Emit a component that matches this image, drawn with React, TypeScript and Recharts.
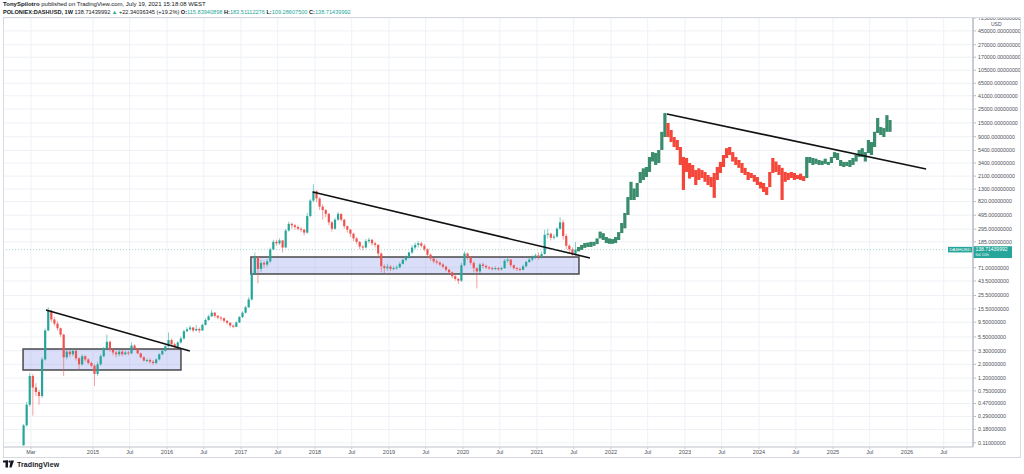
import React from "react";
import {
  ComposedChart,
  Bar,
  XAxis,
  YAxis,
  CartesianGrid,
  ReferenceLine,
  ReferenceArea,
} from "recharts";

// weekly DASH candles, resampled to half-month slots counted from 2014-01-01
const SLOT_YEAR = 2014;
const SLOTS_PER_YEAR = 24;
const FIRST_SLOT = 1;
const FIRST_OPEN = 0.1;

const closes = [
  0.21, 0.45, 1.3, 0.85, 0.72, 0.62, 2.4, 7.0, 14.5, 10.5,
  9, 7.6, 6.0, 2.6, 3.2, 2.9, 3.3, 2.5, 2.0, 2.7,
  2.4, 2.1, 1.9, 1.4, 2.0, 2.7, 3.6, 4.6, 3.4, 3.1,
  2.9, 3.2, 2.9, 3.1, 3.0, 4.0, 3.6, 3.0, 2.6, 2.3,
  2.35, 2.2, 2.1, 2.4, 2.9, 3.3, 3.9, 4.9, 4.2, 3.8,
  4.5, 5.2, 6.8, 7.3, 7.8, 7.0, 7.4, 7.0, 8.6, 10.3,
  11.8, 13.5, 12.0, 11.3, 11.0, 10.0, 9.3, 8.4, 8.0, 9.4,
  11.5, 13.5, 16.5, 22, 58, 104, 68, 85, 80, 90,
  140, 185, 175, 195, 150, 280, 360, 340, 320, 300,
  290, 260, 480, 850, 1200, 920, 680, 600, 520, 380,
  300, 420, 520, 420, 330, 290, 250, 210, 185, 155,
  150, 190, 200, 175, 165, 120, 75, 70, 74, 68,
  70, 72, 82, 95, 105, 125, 150, 165, 175, 160,
  140, 115, 100, 90, 86, 80, 74, 66, 60, 52,
  47, 44, 78, 120, 105, 85, 70, 62, 80, 76,
  72, 70, 68, 70, 67, 70, 92, 96, 78, 70,
  68, 66, 75, 88, 96, 104, 112, 105, 118, 240,
  250, 215, 225, 300, 380, 230, 160, 140, 116, 138.71439992,
];

const highs = [
  0.22, 0.5, 1.45, 1.4, 1.0, 0.78, 2.6, 7.5, 16.5, 15,
  11.5, 9.8, 7.8, 6.2, 3.5, 3.4, 3.6, 3.4, 2.6, 2.9,
  2.8, 2.5, 2.2, 2.0, 2.2, 2.9, 3.8, 6.0, 4.8, 3.6,
  3.3, 3.4, 3.4, 3.3, 3.3, 4.5, 4.2, 3.7, 3.1, 2.7,
  2.5, 2.5, 2.35, 2.5, 3.0, 3.5, 4.1, 6.5, 5.2, 4.5,
  4.7, 5.6, 7.2, 7.9, 8.4, 8.0, 8.6, 7.8, 9.0, 11.0,
  12.5, 15.0, 13.8, 12.4, 11.8, 11.2, 10.2, 9.4, 8.7, 9.8,
  12.0, 14.2, 17.5, 24, 65, 125, 108, 95, 92, 98,
  150, 200, 200, 210, 200, 300, 390, 380, 360, 340,
  320, 300, 540, 900, 1550, 1250, 960, 740, 620, 540,
  400, 450, 560, 530, 430, 340, 300, 260, 220, 190,
  165, 205, 215, 205, 185, 170, 125, 80, 82, 78,
  76, 78, 88, 100, 112, 130, 165, 180, 190, 185,
  170, 145, 120, 103, 97, 90, 84, 76, 68, 62,
  54, 49, 85, 130, 125, 108, 90, 72, 85, 86,
  80, 76, 74, 75, 73, 74, 98, 104, 98, 80,
  73, 72, 80, 92, 104, 112, 120, 125, 130, 290,
  300, 260, 245, 320, 463, 420, 250, 170, 150, 183.51112276,
];

const lows = [
  0.1, 0.2, 0.42, 0.3, 0.62, 0.45, 0.58, 2.3, 6.8, 9.5,
  8.3, 7.0, 5.5, 1.3, 2.4, 2.6, 2.7, 2.3, 1.65, 1.9,
  2.2, 2.0, 1.8, 0.9, 1.3, 1.9, 2.6, 3.5, 3.2, 2.8,
  2.6, 2.7, 2.7, 2.8, 2.8, 2.9, 3.4, 2.9, 2.5, 2.2,
  2.15, 2.05, 1.95, 2.0, 2.3, 2.8, 3.2, 3.7, 3.9, 3.5,
  3.6, 4.3, 5.0, 6.6, 6.9, 6.5, 6.8, 6.4, 6.9, 8.4,
  10.0, 11.5, 11.2, 10.6, 10.0, 9.3, 8.6, 7.8, 7.6, 7.9,
  9.2, 11.0, 13.0, 16, 21, 55, 40, 60, 70, 74,
  85, 135, 160, 165, 125, 150, 270, 300, 290, 280,
  265, 235, 250, 460, 800, 800, 600, 420, 460, 340,
  270, 290, 400, 390, 300, 260, 220, 190, 170, 140,
  135, 145, 175, 160, 150, 100, 60, 58, 64, 63,
  65, 66, 70, 80, 90, 100, 118, 140, 150, 150,
  130, 105, 92, 84, 80, 76, 70, 62, 55, 48,
  44, 39, 42, 75, 95, 78, 60, 33, 58, 70,
  68, 66, 64, 65, 63, 64, 68, 86, 72, 66,
  63, 62, 64, 72, 85, 90, 98, 96, 100, 115,
  210, 195, 200, 215, 290, 200, 140, 120, 105, 109.285075,
];

// projected bars pattern drawn by the author after the last candle
const projHigh = [
  153, 165, 177, 180, 185, 185, 210, 270, 255, 221,
  210, 205, 221, 265, 371, 537, 970, 1700, 1330, 1630,
  2450, 2800, 2940, 4260, 5100, 4930, 5510, 10800, 21600, 14950,
  11540, 8910, 7980, 6160, 4260, 4100, 3410, 3170, 2630, 2800,
  2630, 2450, 2190, 2030, 2360, 2940, 3550, 4580, 5900, 6160,
  5100, 4260, 3810, 3410, 2850, 2450, 2360, 2190, 2030, 1700,
  1630, 1400, 2450, 4100, 3600, 3170, 2850, 2450, 2360, 2450,
  2360, 2190, 2300, 2100, 4260, 4260, 4100, 4000, 3810, 3700,
  4000, 3550, 4260, 5100, 4930, 3810, 3550, 3550, 3810, 4100,
  4580, 5510, 5900, 5100, 7980, 7400, 10800, 18000, 12900, 12400,
  20000, 16700,
];

const projLow = [
  130, 137, 148, 153, 153, 160, 170, 210, 198, 177,
  172, 172, 177, 198, 256, 305, 499, 869, 869, 970,
  1630, 1820, 2030, 2450, 3600, 3170, 3410, 5510, 8910, 8910,
  7400, 6160, 5510, 3170, 1256, 2450, 1920, 2030, 1510, 1820,
  1960, 1700, 1510, 1400, 940, 1820, 2360, 2940, 4100, 4580,
  3600, 3170, 2850, 2360, 2190, 1820, 1960, 1700, 1510, 1330,
  1170, 1045, 1400, 2360, 2450, 2190, 869, 1700, 1820, 1960,
  1820, 1890, 1820, 1750, 1960, 3410, 3170, 3300, 3170, 3170,
  3300, 3170, 3410, 4100, 3810, 3050, 2940, 3050, 2940, 3170,
  3600, 4260, 4260, 3600, 4930, 4580, 6160, 10330, 9590, 8910,
  10800, 10800,
];

// index in the projection where it turns down, and where it turns up again
const projTurns = [29, 74];

const priceTicks = [
  725000, 450000, 270000, 170000, 105000, 65000, 41000, 25000, 15000, 9000,
  5400, 3400, 2100, 1300, 820, 495, 295, 185, 71, 43.5,
  25.5, 15.5, 9.5, 5.5, 3.3, 2.0, 1.2, 0.75, 0.47, 0.29, 0.18, 0.11,
];

const xTickDates = [
  "2014-03-01", "2015-01-01", "2015-07-01", "2016-01-01", "2016-07-01",
  "2017-01-01", "2017-07-01", "2018-01-01", "2018-07-01", "2019-01-01",
  "2019-07-01", "2020-01-01", "2020-07-01", "2021-01-01", "2021-07-01",
  "2022-01-01", "2022-07-01", "2023-01-01", "2023-07-01", "2024-01-01",
  "2024-07-01", "2025-01-01", "2025-07-01", "2026-01-01", "2026-07-01",
];
const xTickLabels = [
  "Mar", "2015", "Jul", "2016", "Jul", "2017", "Jul", "2018", "Jul", "2019",
  "Jul", "2020", "Jul", "2021", "Jul", "2022", "Jul", "2023", "Jul", "2024",
  "Jul", "2025", "Jul", "2026", "Jul",
];

const trendLines = [
  { from: "2014-05-14", fromPrice: 14.9, to: "2016-04-23", toPrice: 3.27 },
  { from: "2017-12-21", fromPrice: 1167, to: "2021-09-19", toPrice: 102 },
  { from: "2022-10-04", fromPrice: 20850, to: "2026-04-05", toPrice: 2730 },
];

const boxes = [
  { from: "2014-01-21", to: "2016-03-10", low: 1.62, high: 3.52 },
  { from: "2017-02-19", to: "2021-07-27", low: 56.4, high: 106 },
];

const LAST_PRICE = 138.71439992;

const UP = "#26a69a";
const DOWN = "#ef5350";
const PROJ_UP = "#3a8c6c";
const PROJ_DOWN = "#f4473a";
const GRID = "#eef1f6";
const TEXT = "#4c4f59";
const FONT = "'Liberation Sans', Arial, sans-serif";

const X_DOMAIN = [2013.7838, 2026.8919];
const Y_DOMAIN = [0.0942, 752000];

function yearFrac(iso: string) {
  const d = new Date(iso + "T00:00:00Z");
  const y = d.getUTCFullYear();
  const start = Date.UTC(y, 0, 1);
  const end = Date.UTC(y + 1, 0, 1);
  return y + (d.getTime() - start) / (end - start);
}

const slotTime = (i: number) => SLOT_YEAR + (i + 0.5) / SLOTS_PER_YEAR;

const rows: any[] = [];
closes.forEach((c, k) => {
  rows.push({
    t: slotTime(FIRST_SLOT + k),
    open: k === 0 ? FIRST_OPEN : closes[k - 1],
    close: c,
    high: highs[k],
    low: lows[k],
    proj: false,
  });
});
projHigh.forEach((h, k) => {
  rows.push({
    t: slotTime(FIRST_SLOT + closes.length + k),
    high: h,
    low: projLow[k],
    proj: true,
    rising: k < projTurns[0] || k >= projTurns[1],
  });
});

const xTicks = xTickDates.map(yearFrac);

function Candle(props: any) {
  const { x, y, width, height, payload } = props;
  if (!payload || x == null || y == null) return null;
  const top = Math.min(y, y + height);
  const bot = Math.max(y, y + height);
  const cx = x + width / 2;
  if (payload.proj) {
    return (
      <rect
        x={cx - 1.6}
        y={top}
        width={3.2}
        height={Math.max(bot - top, 1.5)}
        fill={payload.rising ? PROJ_UP : PROJ_DOWN}
      />
    );
  }
  const lh = Math.log(payload.high);
  const ll = Math.log(payload.low);
  const toY = (v: number) => (lh === ll ? top : top + ((bot - top) * (lh - Math.log(v))) / (lh - ll));
  const yo = toY(payload.open);
  const yc = toY(payload.close);
  const color = payload.close >= payload.open ? UP : DOWN;
  return (
    <g>
      <line x1={cx} x2={cx} y1={top} y2={bot} stroke={color} strokeOpacity={0.55} strokeWidth={1} />
      <rect x={cx - 1.1} y={Math.min(yo, yc)} width={2.2} height={Math.max(Math.abs(yc - yo), 1)} fill={color} />
    </g>
  );
}

function PriceTag(props: any) {
  const { viewBox } = props;
  if (!viewBox) return null;
  const right = viewBox.x + viewBox.width;
  const y = viewBox.y;
  return (
    <g fontFamily={FONT}>
      <rect x={right - 25} y={y - 2.8} width={24} height={5.6} fill={UP} />
      <text x={right - 13} y={y + 1.5} fontSize={4.3} fill="#fff" textAnchor="middle">
        DASHUSD
      </text>
      <rect x={right} y={y - 3.4} width={39} height={11.8} fill={UP} />
      <text x={right + 2.5} y={y + 1.6} fontSize={5} fill="#fff">
        138.71439992
      </text>
      <text x={right + 2.5} y={y + 6.4} fontSize={4.4} fill="#e6f7f5">
        6d 10h
      </text>
    </g>
  );
}

export default function App() {
  return (
    <div
      style={{
        position: "relative",
        width: 1024,
        height: 474,
        background: "#fff",
        overflow: "hidden",
        fontFamily: FONT,
        color: "#131722",
      }}
    >
      <style>{"body{margin:0}"}</style>
      <div style={{ position: "absolute", left: 3, top: 1, fontSize: 6, lineHeight: "7.6px", whiteSpace: "nowrap" }}>
        <div>
          <b>TonySpilotro</b> published on TradingView.com, July 19, 2021 15:18:08 WEST
        </div>
        <div style={{ fontSize: 5.6 }}>
          <b>POLONIEX:DASHUSD, 1W</b> 138.71439992 <span style={{ color: UP }}>▲</span> +22.34036345 (+19.2%){" "}
          <b>O:</b>
          <span style={{ color: UP }}>115.83940898</span> <b>H:</b>
          <span style={{ color: UP }}>183.51112276</span> <b>L:</b>
          <span style={{ color: UP }}>109.28607500</span> <b>C:</b>
          <span style={{ color: UP }}>138.71439992</span>
        </div>
      </div>

      <div style={{ position: "absolute", left: 3, top: 17 }}>
        <ComposedChart width={1018} height={441} data={rows} margin={{ top: 0, right: 0, bottom: 0, left: 0 }}>
          <CartesianGrid stroke={GRID} />
          <XAxis
            type="number"
            dataKey="t"
            domain={X_DOMAIN}
            allowDataOverflow
            ticks={xTicks}
            interval={0}
            height={11}
            tickSize={2}
            tickMargin={1}
            tick={{ fontSize: 5.5, fill: TEXT, fontFamily: FONT }}
            tickFormatter={(v: number) => xTickLabels[xTicks.indexOf(v)] ?? ""}
            axisLine={{ stroke: "#c5c8cf" }}
            tickLine={{ stroke: "#c5c8cf" }}
          />
          <YAxis
            orientation="right"
            scale="log"
            domain={Y_DOMAIN}
            allowDataOverflow
            ticks={priceTicks}
            interval={0}
            width={48}
            tickSize={3}
            tickMargin={2}
            tick={{ fontSize: 5.3, fill: TEXT, fontFamily: FONT }}
            tickFormatter={(v: number) => v.toFixed(8)}
            axisLine={{ stroke: "#b9bcc4", strokeWidth: 1.5 }}
            tickLine={{ stroke: "#b9bcc4" }}
          />
          <Bar
            dataKey={(d: any) => [d.low, d.high]}
            barSize={3}
            shape={(p: any) => <Candle {...p} />}
            isAnimationActive={false}
          />
          {boxes.map((b, i) => (
            <ReferenceArea
              key={"box" + i}
              x1={yearFrac(b.from)}
              x2={yearFrac(b.to)}
              y1={b.low}
              y2={b.high}
              fill="rgb(150,160,235)"
              fillOpacity={0.35}
              stroke="#4a4a4a"
              strokeWidth={1.5}
              ifOverflow="visible"
            />
          ))}
          {trendLines.map((l, i) => (
            <ReferenceLine
              key={"trend" + i}
              segment={[
                { x: yearFrac(l.from), y: l.fromPrice },
                { x: yearFrac(l.to), y: l.toPrice },
              ]}
              stroke="#111"
              strokeWidth={1.6}
              ifOverflow="visible"
            />
          ))}
          <ReferenceLine
            y={LAST_PRICE}
            stroke={UP}
            strokeOpacity={0.45}
            strokeDasharray="1 2"
            label={<PriceTag />}
          />
        </ComposedChart>
      </div>

      <div
        style={{
          position: "absolute",
          left: 3,
          top: 17,
          width: 1018,
          height: 441,
          border: "1px solid #d6d9e0",
          boxSizing: "border-box",
          pointerEvents: "none",
        }}
      />
      <div style={{ position: "absolute", left: 991, top: 21, fontSize: 5, color: TEXT }}>USD</div>

      <div style={{ position: "absolute", left: 3, top: 460, display: "flex", alignItems: "center", gap: 3 }}>
        <svg width={11} height={8} viewBox="0 0 11 8">
          <rect x={0} y={0.5} width={5} height={2} fill="#131722" />
          <rect x={2.5} y={0.5} width={2.5} height={7} fill="#131722" />
          <circle cx={6.5} cy={1.6} r={1.1} fill="#131722" />
          <polygon points="7.6,0.5 11,0.5 8.6,7.5 6.4,7.5" fill="#131722" />
        </svg>
        <span style={{ fontSize: 7, fontWeight: 600, letterSpacing: 0.1 }}>TradingView</span>
      </div>
    </div>
  );
}
